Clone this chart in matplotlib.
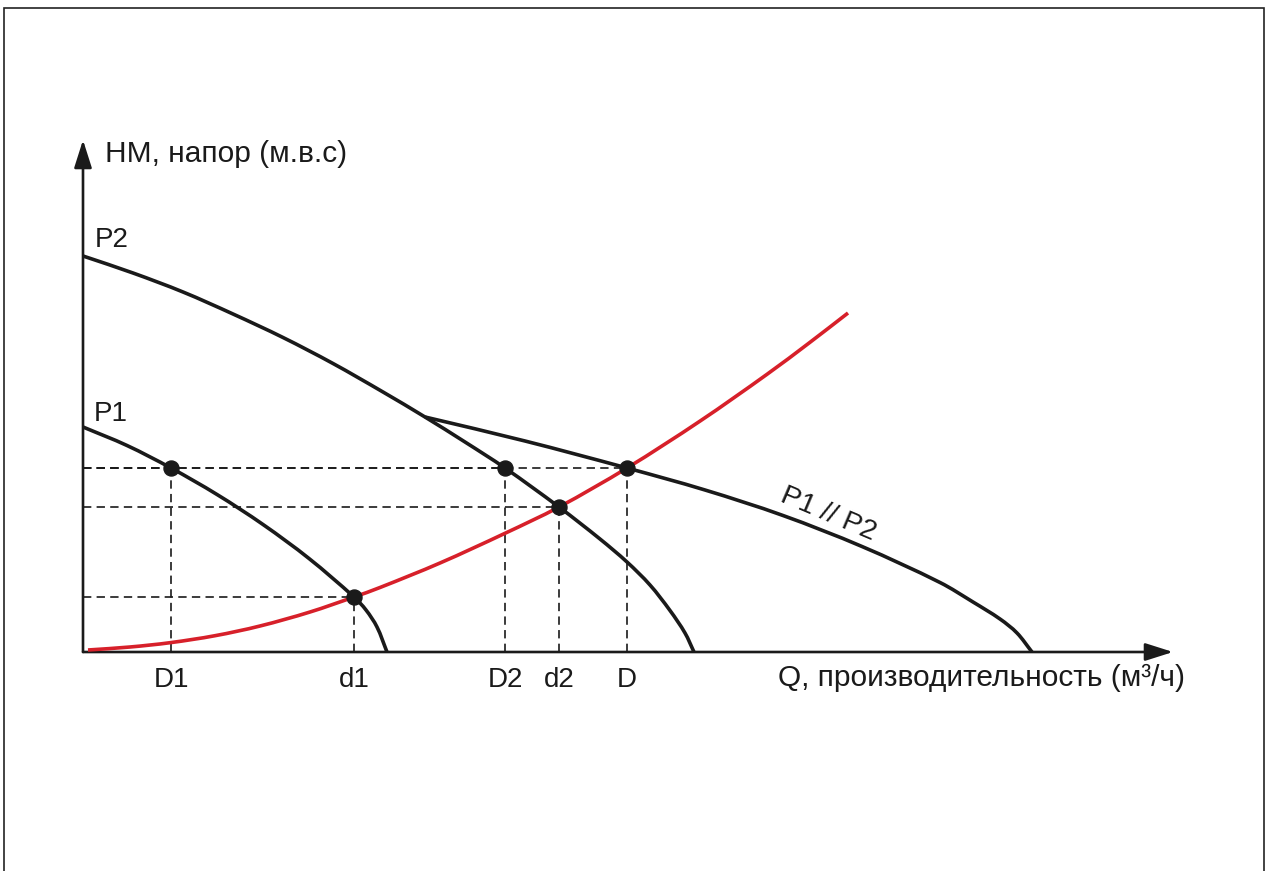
import math
import matplotlib
matplotlib.use("Agg")
import matplotlib.pyplot as plt
from matplotlib.patches import Rectangle, PathPatch
from matplotlib.path import Path

plt.rcParams["font.family"] = ["Liberation Sans", "DejaVu Sans"]
plt.rcParams["lines.scale_dashes"] = False

# Pump characteristic curves: flow Q vs head H (schematic units)
p1_q = [0.0, 4.4, 8.8, 13.4, 18.0, 22.6, 27.1, 28.3, 29.4, 30.4]
p1_h = [22.5, 20.65, 18.4, 15.75, 12.75, 9.35, 5.5, 4.2, 2.5, 0.0]

p2_q = [0.0, 5.0, 10.0, 15.0, 20.0, 25.0, 30.0, 34.2, 38.2, 42.2, 47.6, 51.7, 54.4, 56.7, 58.7, 60.2, 61.1]
p2_h = [39.6, 37.9, 36.0, 33.8, 31.45, 28.85, 26.0, 23.5, 21.0, 18.4, 14.5, 11.3, 9.0, 6.7, 4.15, 1.9, 0.0]

# Two pumps in parallel
par_q = [34.2, 44.2, 54.4, 62.2, 70.0, 77.9, 85.7, 89.0, 91.7, 93.4, 94.9]
par_h = [23.5, 21.1, 18.4, 16.2, 13.65, 10.55, 6.95, 5.0, 3.3, 1.9, 0.0]

# System (network) resistance curve
sys_q = [0.5, 4.7, 8.7, 13.2, 17.7, 22.7, 27.1, 29.7, 35.7, 42.2, 47.6, 54.4, 61.7, 68.4, 72.7, 76.5]
sys_h = [0.2, 0.5, 0.93, 1.63, 2.6, 4.0, 5.5, 6.45, 8.9, 11.87, 14.5, 18.4, 23.09, 27.77, 30.97, 33.9]

# Operating points
op_labels = ["D1", "d1", "D2", "d2", "D"]
op_q = [8.8, 27.1, 42.2, 47.6, 54.4]
op_h = [18.4, 5.5, 18.4, 14.5, 18.4]

BLACK = "#1a1a1a"
RED = "#d7202a"


def smooth_path(xs, ys):
    """Cubic Bezier path through every given point, chord-length tangents."""
    pts = list(zip(xs, ys))
    n = len(pts)
    t = [0.0]
    for i in range(1, n):
        t.append(t[-1] + math.dist(pts[i], pts[i - 1]))
    tang = []
    for i in range(n):
        a = max(i - 1, 0)
        b = min(i + 1, n - 1)
        dt = t[b] - t[a]
        tang.append(((pts[b][0] - pts[a][0]) / dt, (pts[b][1] - pts[a][1]) / dt))
    verts = [pts[0]]
    codes = [Path.MOVETO]
    for i in range(n - 1):
        h = (t[i + 1] - t[i]) / 3
        c1 = (pts[i][0] + tang[i][0] * h, pts[i][1] + tang[i][1] * h)
        c2 = (pts[i + 1][0] - tang[i + 1][0] * h, pts[i + 1][1] - tang[i + 1][1] * h)
        verts += [c1, c2, pts[i + 1]]
        codes += [Path.CURVE4] * 3
    return Path(verts, codes)


fig = plt.figure(figsize=(12.68, 8.71), dpi=100)
fig.patch.set_facecolor("white")

# outer frame (open at the bottom edge of the page)
fig.patches.append(Rectangle((4 / 1268, -0.05), 1260 / 1268, 1.05 - 8 / 871,
                             transform=fig.transFigure, fill=False,
                             edgecolor="#222222", linewidth=1.2))

ax = fig.add_axes([83 / 1268, 219 / 871, 1090 / 1268, 512 / 871])
ax.set_xlim(0, 109)
ax.set_ylim(0, 51.2)
ax.axis("off")

# axes with arrowheads
arrow_kw = dict(arrowstyle="-|>,head_length=0.85,head_width=0.27",
                color=BLACK, lw=1.9, shrinkA=0, shrinkB=0, mutation_scale=20)
ax.annotate("", xy=(1, 0), xytext=(0, 0), xycoords="axes fraction",
            textcoords="axes fraction", arrowprops=arrow_kw)
ax.annotate("", xy=(0, 1), xytext=(0, 0), xycoords="axes fraction",
            textcoords="axes fraction", arrowprops=arrow_kw)

# dashed guide lines from the operating points to the axes
dash = (0, (6.0, 3.8))
for q, h in zip(op_q, op_h):
    ax.plot([0, q], [h, h], color=BLACK, lw=1.2, ls=dash, zorder=1)
    ax.plot([q, q], [0, h], color=BLACK, lw=1.2, ls=dash, zorder=1)

for xs, ys, col in [(sys_q, sys_h, RED), (p1_q, p1_h, BLACK),
                    (p2_q, p2_h, BLACK), (par_q, par_h, BLACK)]:
    ax.add_patch(PathPatch(smooth_path(xs, ys), fill=False, edgecolor=col,
                           lw=2.6, capstyle="butt", joinstyle="round", zorder=3))

ax.plot(op_q, op_h, "o", color=BLACK, ms=10.8, zorder=5)

fs_lat = 20
fs_cyr = 21.5
for lab, q in zip(op_labels, op_q):
    ax.annotate(lab, xy=(q, 0), xytext=(0, -25), textcoords="offset points",
                ha="center", va="baseline", fontsize=fs_lat, color=BLACK)

ax.text(2.2, 49.0, "НМ, напор (м.в.с)", fontsize=fs_cyr, ha="left", va="baseline", color=BLACK)
ax.text(1.2, 40.5, "P2", fontsize=fs_lat, ha="left", va="baseline", color=BLACK)
ax.text(1.1, 23.1, "P1", fontsize=fs_lat, ha="left", va="baseline", color=BLACK)
ax.text(69.5, -3.4, "Q, производительность (м³/ч)", fontsize=fs_cyr,
        ha="left", va="baseline", color=BLACK, clip_on=False)
ax.text(74.5, 13.8, "P1 // P2", fontsize=20.5, ha="center", va="center",
        rotation=-23, rotation_mode="anchor", color=BLACK)

fig.savefig("out.png", dpi=100)
